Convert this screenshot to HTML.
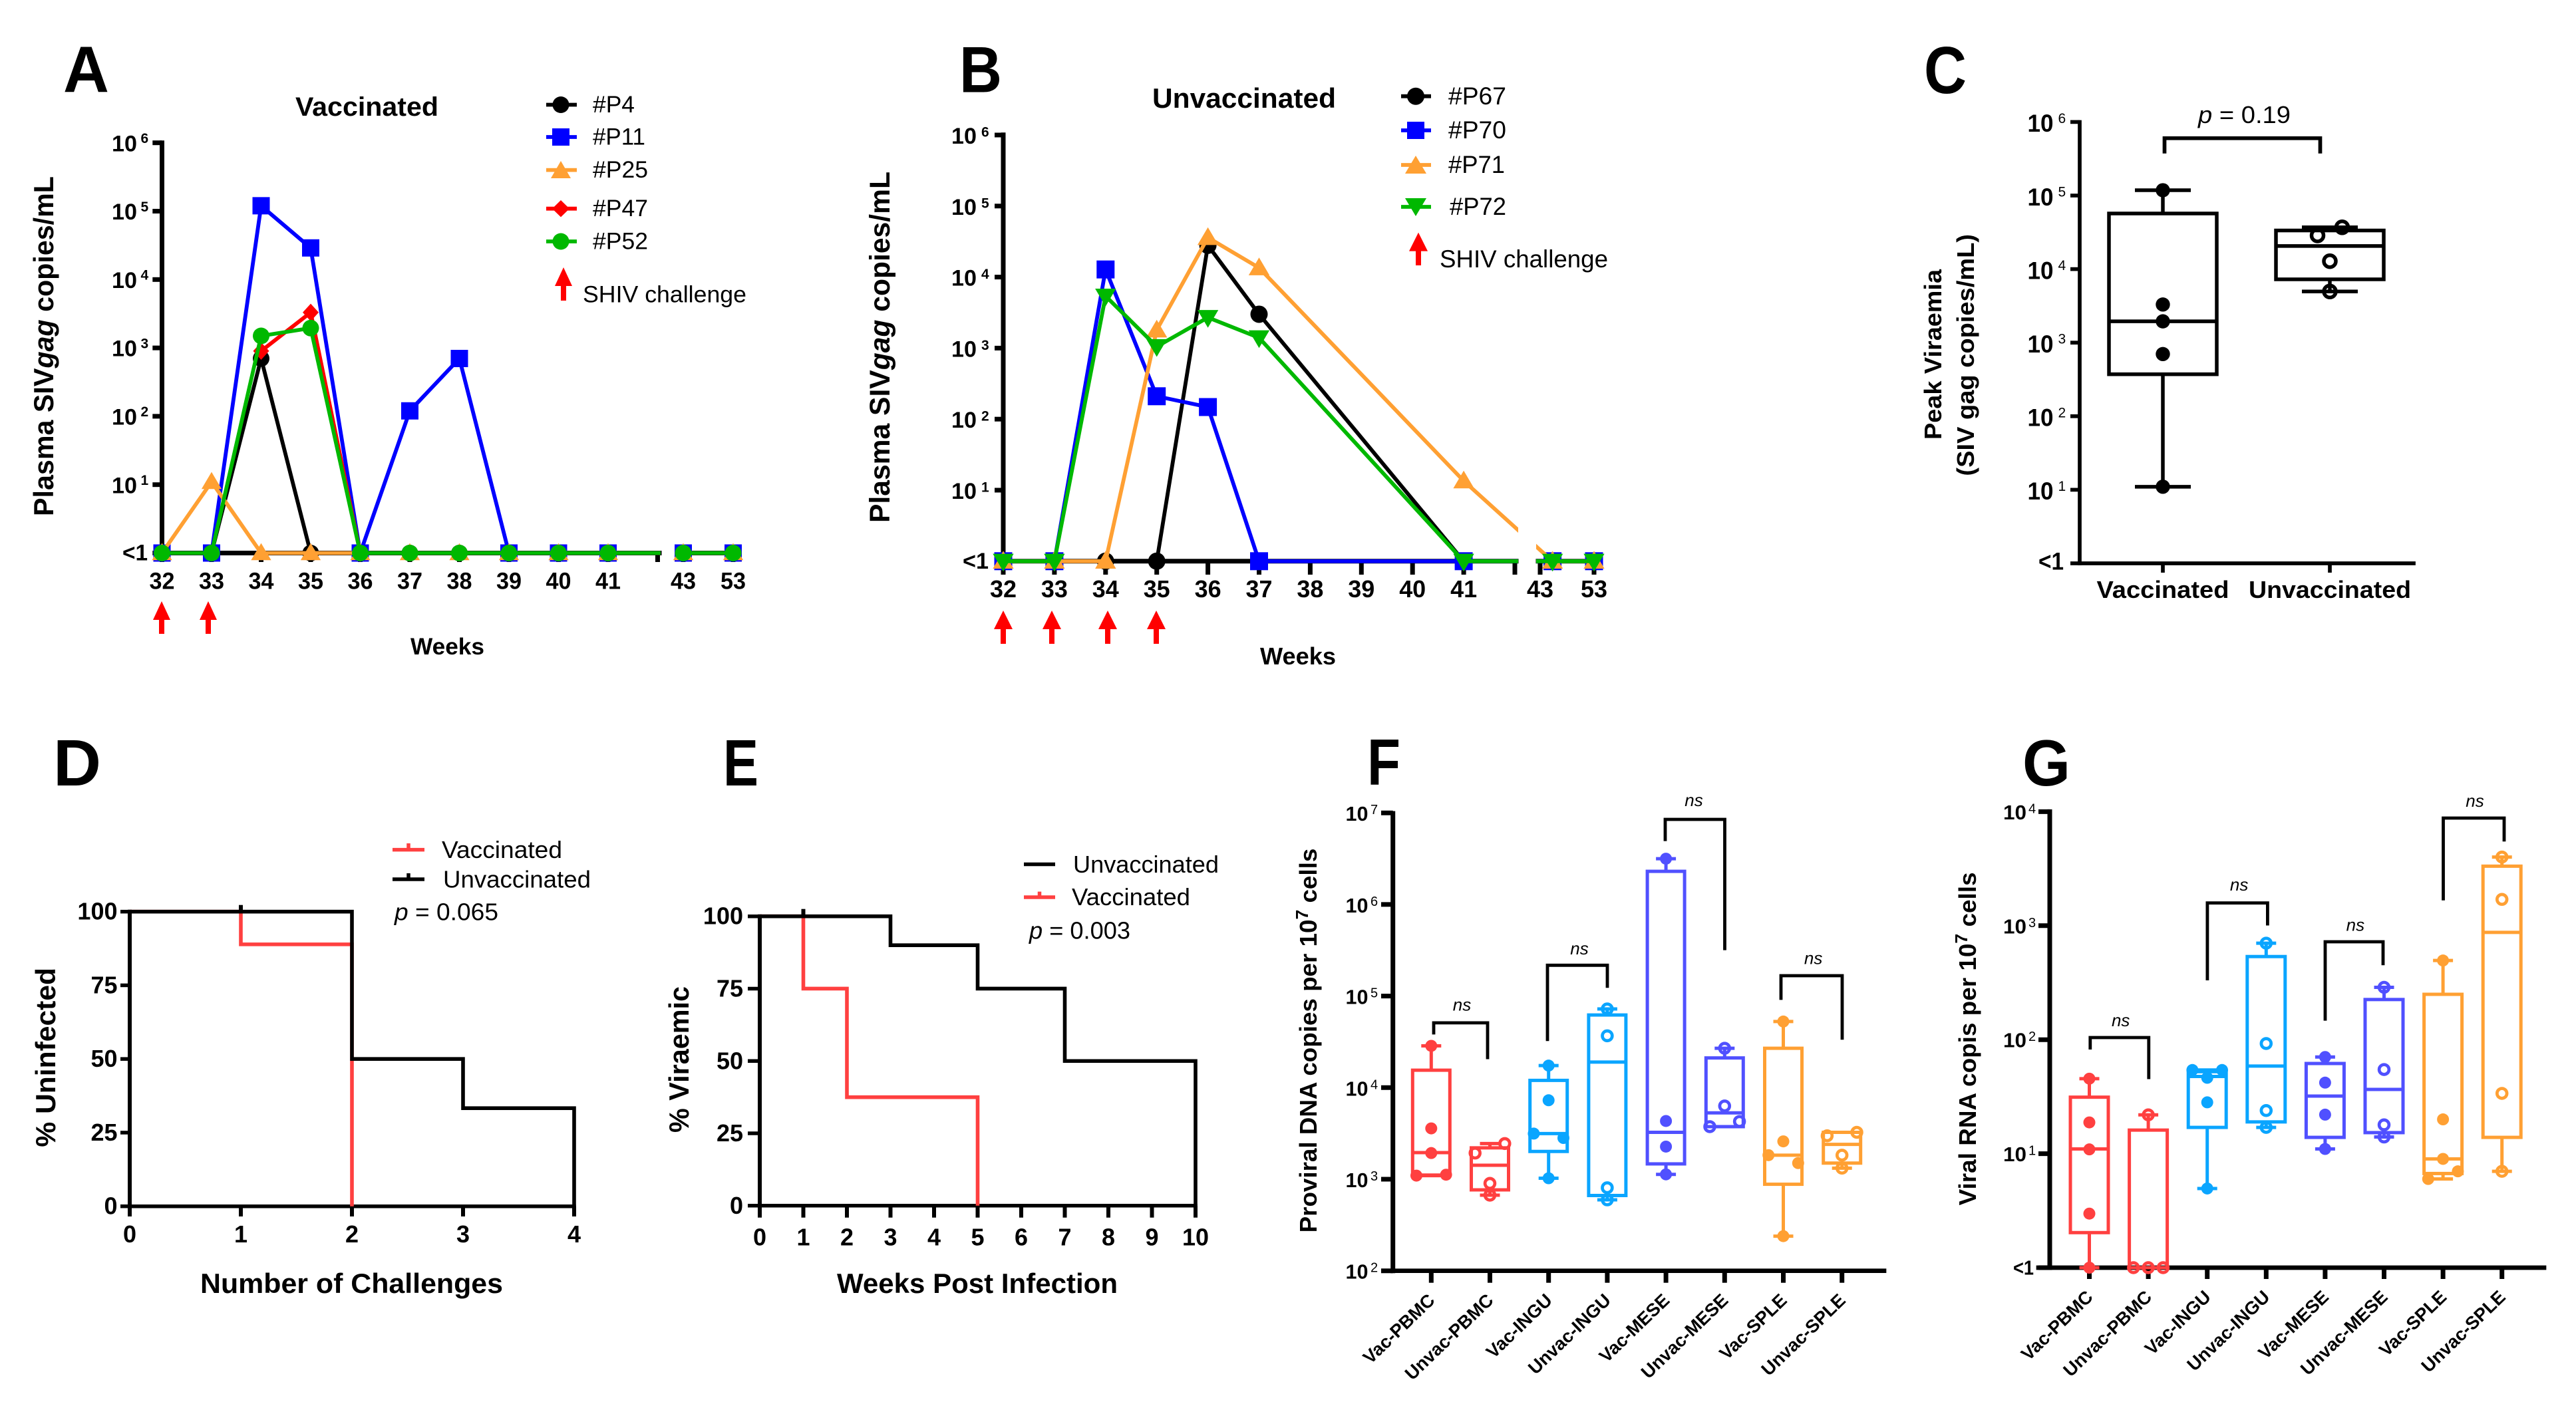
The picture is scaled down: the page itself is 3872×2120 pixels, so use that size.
<!DOCTYPE html>
<html lang="en">
<head>
<meta charset="utf-8">
<title>SHIV challenge outcomes figure</title>
<style>
html,body{margin:0;padding:0;background:#fff;}
svg{display:block;}
text{font-family:"Liberation Sans",sans-serif;fill:#000;}
.b{font-weight:bold;}
</style>
</head>
<body>
<svg id="figure" xmlns="http://www.w3.org/2000/svg" width="3872" height="2120" viewBox="0 0 3872 2120">
<rect x="0" y="0" width="3872" height="2120" fill="#fff"/>
<defs>
<clipPath id="clipA"><rect x="0" y="0" width="993" height="2120"/><rect x="1027" y="0" width="400" height="2120"/></clipPath>
<clipPath id="clipB"><rect x="1300" y="0" width="982" height="2120"/><rect x="2309" y="0" width="400" height="2120"/></clipPath>
</defs>

<!-- Panel A static -->
<g id="panelA">
<text class="b" x="95" y="138.6" font-size="98" textLength="69" lengthAdjust="spacingAndGlyphs">A</text>
<text class="b" x="444" y="173.8" font-size="40" textLength="215" lengthAdjust="spacingAndGlyphs">Vaccinated</text>
<text class="b" transform="translate(80,776) rotate(-90)" font-size="42" textLength="511" lengthAdjust="spacingAndGlyphs">Plasma SIV<tspan font-style="italic">gag</tspan> copies/mL</text>
<text class="b" x="617" y="983.8" font-size="35" textLength="111" lengthAdjust="spacingAndGlyphs">Weeks</text>
<g>
<g><line x1="821" x2="867" y1="157.5" y2="157.5" stroke="#000" stroke-width="5.8"/><circle cx="843" cy="157.5" r="12.5" fill="#000"/><text x="891" y="169" font-size="35" textLength="63" lengthAdjust="spacingAndGlyphs">#P4</text></g>
<g><line x1="821" x2="867" y1="206" y2="206" stroke="#00f" stroke-width="5.8"/><rect x="830" y="193" width="26" height="26" fill="#00f"/><text x="891" y="217.7" font-size="35" textLength="79" lengthAdjust="spacingAndGlyphs">#P11</text></g>
<g><line x1="821" x2="867" y1="255.6" y2="255.6" stroke="#ffa033" stroke-width="5.8"/><path d="M843 242l15 26h-30z" fill="#ffa033"/><text x="891" y="267" font-size="35" textLength="83" lengthAdjust="spacingAndGlyphs">#P25</text></g>
<g><line x1="821" x2="867" y1="313.7" y2="313.7" stroke="#f00" stroke-width="5.8"/><path d="M843 301l13 12.7-13 12.7-13-12.7z" fill="#f00"/><text x="891" y="325" font-size="35" textLength="83" lengthAdjust="spacingAndGlyphs">#P47</text></g>
<g><line x1="821" x2="867" y1="363" y2="363" stroke="#00b800" stroke-width="5.8"/><circle cx="843" cy="363" r="12.5" fill="#00b800"/><text x="891" y="374.6" font-size="35" textLength="83" lengthAdjust="spacingAndGlyphs">#P52</text></g>
<g><path d="M847 402l13 28h-9v22h-8v-22h-9z" fill="#f00"/><text x="876" y="454.4" font-size="35.5" textLength="246" lengthAdjust="spacingAndGlyphs">SHIV challenge</text></g>
</g>
<path d="M243 904l13 28h-9v21h-8v-21h-9z" fill="#f00"/>
<path d="M313 904l13 28h-9v21h-8v-21h-9z" fill="#f00"/>
</g>

<!-- Panel B static -->
<g id="panelB">
<text class="b" x="1442" y="138.6" font-size="98" textLength="64" lengthAdjust="spacingAndGlyphs">B</text>
<text class="b" x="1732" y="162" font-size="42" textLength="276" lengthAdjust="spacingAndGlyphs">Unvaccinated</text>
<text class="b" transform="translate(1337,786) rotate(-90)" font-size="43" textLength="528" lengthAdjust="spacingAndGlyphs">Plasma SIV<tspan font-style="italic">gag</tspan> copies/mL</text>
<text class="b" x="1894" y="999" font-size="36" textLength="114" lengthAdjust="spacingAndGlyphs">Weeks</text>
<g>
<g><line x1="2106" x2="2151" y1="144.7" y2="144.7" stroke="#000" stroke-width="5.8"/><circle cx="2128" cy="144.7" r="13" fill="#000"/><text x="2177" y="156.9" font-size="37" textLength="87" lengthAdjust="spacingAndGlyphs">#P67</text></g>
<g><line x1="2106" x2="2151" y1="196" y2="196" stroke="#00f" stroke-width="5.8"/><rect x="2115" y="183" width="26" height="26" fill="#00f"/><text x="2177" y="208" font-size="37" textLength="87" lengthAdjust="spacingAndGlyphs">#P70</text></g>
<g><line x1="2106" x2="2151" y1="248" y2="248" stroke="#ffa033" stroke-width="5.8"/><path d="M2128 234l16 27h-32z" fill="#ffa033"/><text x="2177" y="260" font-size="37" textLength="85" lengthAdjust="spacingAndGlyphs">#P71</text></g>
<g><line x1="2106" x2="2151" y1="311" y2="311" stroke="#00b800" stroke-width="5.8"/><path d="M2128 325l16-27h-32z" fill="#00b800"/><text x="2179" y="323" font-size="37" textLength="85" lengthAdjust="spacingAndGlyphs">#P72</text></g>
<g><path d="M2132 349.6l14 28h-10v21.4h-8v-21.4h-10z" fill="#f00"/><text x="2164" y="402" font-size="37" textLength="253" lengthAdjust="spacingAndGlyphs">SHIV challenge</text></g>
</g>
<path d="M1508 918l14 28h-10v22h-8v-22h-10z" fill="#f00"/>
<path d="M1581 918l14 28h-10v22h-8v-22h-10z" fill="#f00"/>
<path d="M1665 918l14 28h-10v22h-8v-22h-10z" fill="#f00"/>
<path d="M1738 918l14 28h-10v22h-8v-22h-10z" fill="#f00"/>
</g>

<!-- Panel C static -->
<g id="panelC">
<text class="b" x="2892" y="140" font-size="100" textLength="64" lengthAdjust="spacingAndGlyphs">C</text>
<text class="b" transform="translate(2918,661) rotate(-90)" font-size="36" textLength="256" lengthAdjust="spacingAndGlyphs">Peak Viraemia</text>
<text class="b" transform="translate(2967,715.6) rotate(-90)" font-size="36" textLength="363.6" lengthAdjust="spacingAndGlyphs">(SIV gag copies/mL)</text>
<path d="M3253.5 230.7V207.8H3487.5V230.7" fill="none" stroke="#000" stroke-width="5.7"/>
<text x="3304" y="185" font-size="36" textLength="139" lengthAdjust="spacingAndGlyphs"><tspan font-style="italic">p</tspan> = 0.19</text>
</g>

<!-- Panel D static -->
<g id="panelD">
<text class="b" x="80" y="1180.8" font-size="98" textLength="72" lengthAdjust="spacingAndGlyphs">D</text>
<text class="b" transform="translate(83,1724.6) rotate(-90)" font-size="42" textLength="269.6" lengthAdjust="spacingAndGlyphs">% Uninfected</text>
<text class="b" x="301" y="1944" font-size="42" textLength="455" lengthAdjust="spacingAndGlyphs">Number of Challenges</text>
<g>
<g><line x1="590" x2="638" y1="1277.6" y2="1277.6" stroke="#ff4040" stroke-width="5.5"/><line x1="614" x2="614" y1="1268" y2="1277.6" stroke="#ff4040" stroke-width="5.5"/><text x="664" y="1290" font-size="36" textLength="181" lengthAdjust="spacingAndGlyphs">Vaccinated</text></g>
<g><line x1="590" x2="638" y1="1322" y2="1322" stroke="#000" stroke-width="5.5"/><line x1="614" x2="614" y1="1313" y2="1322" stroke="#000" stroke-width="5.5"/><text x="666" y="1334.6" font-size="36" textLength="222" lengthAdjust="spacingAndGlyphs">Unvaccinated</text></g>
</g>
<text x="593" y="1383.7" font-size="36" textLength="156" lengthAdjust="spacingAndGlyphs"><tspan font-style="italic">p</tspan> = 0.065</text>
</g>

<!-- Panel E static -->
<g id="panelE">
<text class="b" x="1087" y="1180.8" font-size="98" textLength="53" lengthAdjust="spacingAndGlyphs">E</text>
<text class="b" transform="translate(1035,1703) rotate(-90)" font-size="42" textLength="220" lengthAdjust="spacingAndGlyphs">% Viraemic</text>
<text class="b" x="1258" y="1944" font-size="42" textLength="422" lengthAdjust="spacingAndGlyphs">Weeks Post Infection</text>
<g>
<g><line x1="1539" x2="1586" y1="1299.5" y2="1299.5" stroke="#000" stroke-width="5.5"/><text x="1613" y="1312" font-size="36" textLength="219" lengthAdjust="spacingAndGlyphs">Unvaccinated</text></g>
<g><line x1="1539" x2="1586" y1="1349" y2="1349" stroke="#ff4040" stroke-width="5.5"/><line x1="1562.5" x2="1562.5" y1="1340.6" y2="1349" stroke="#ff4040" stroke-width="5.5"/><text x="1611" y="1361" font-size="36" textLength="178" lengthAdjust="spacingAndGlyphs">Vaccinated</text></g>
</g>
<text x="1547" y="1411.6" font-size="36" textLength="152" lengthAdjust="spacingAndGlyphs"><tspan font-style="italic">p</tspan> = 0.003</text>
</g>

<!-- Panel F static -->
<g id="panelF">
<text class="b" x="2055" y="1180" font-size="98" textLength="50" lengthAdjust="spacingAndGlyphs">F</text>
<text class="b" transform="translate(1979,1853.4) rotate(-90)" font-size="36" textLength="577.7" lengthAdjust="spacingAndGlyphs">Proviral DNA copies per 10<tspan dy="-13" font-size="26">7</tspan><tspan dy="13"> cells</tspan></text>
<g fill="none" stroke="#000" stroke-width="4.8">
<path d="M2155 1555.4V1537.9H2236V1592.5"/>
<path d="M2326 1565.2V1451.3H2416V1485.2"/>
<path d="M2503 1264.6V1232H2592.5V1428.6"/>
<path d="M2677 1503.4V1467H2769V1563.2"/>
</g>
<g font-style="italic" font-size="26" text-anchor="middle">
<text x="2197.5" y="1519.6">ns</text>
<text x="2374" y="1435">ns</text>
<text x="2546" y="1212">ns</text>
<text x="2725.6" y="1449.4">ns</text>
</g>
</g>

<!-- Panel G static -->
<g id="panelG">
<text class="b" x="3040" y="1181" font-size="98" textLength="72" lengthAdjust="spacingAndGlyphs">G</text>
<text class="b" transform="translate(2970,1812.4) rotate(-90)" font-size="36" textLength="501" lengthAdjust="spacingAndGlyphs">Viral RNA copis per 10<tspan dy="-13" font-size="26">7</tspan><tspan dy="13"> cells</tspan></text>
<g fill="none" stroke="#000" stroke-width="4.8">
<path d="M3141.8 1578V1560H3229.8V1622.5"/>
<path d="M3317.9 1474V1357.6H3408.4V1391.5"/>
<path d="M3495 1534.6V1416H3582V1451.3"/>
<path d="M3672.5 1353.7V1230H3764V1265.3"/>
</g>
<g font-style="italic" font-size="26" text-anchor="middle">
<text x="3187.7" y="1543">ns</text>
<text x="3365.6" y="1338.8">ns</text>
<text x="3540.4" y="1399.3">ns</text>
<text x="3720" y="1213">ns</text>
</g>
</g>
</svg>

<script>
// ---------- Panel A data (plasma SIV gag copies/mL; 1 means "<1") ----------
const aTickWeeks = [32,33,34,35,36,37,38,39,40,41,42,43,53];
const aTickLabels = ['32','33','34','35','36','37','38','39','40','41','','43','53'];
const aP4Weeks = [32,33,34,35,36,37,38,39,40,41,43,53];
const aP4Values = [1,1,700,1,1,1,1,1,1,1,1,1];
const aP11Weeks = [32,33,34,35,36,37,38,39,40,41,43,53];
const aP11Values = [1,1,120000,29000,1,120,700,1,1,1,1,1];
const aP25Weeks = [32,33,34,35,36,37,38,39,40,41,43,53];
const aP25Values = [1,11,1,1,1,1,1,1,1,1,1,1];
const aP47Weeks = [34,35,36];
const aP47Values = [900,3300,1];
const aP52Weeks = [32,33,34,35,36,37,38,39,40,41,43,53];
const aP52Values = [1,1,1500,1950,1,1,1,1,1,1,1,1];

// ---------- Panel B data ----------
const bTickWeeks = [32,33,34,35,36,37,38,39,40,41,42,43,53];
const bTickLabels = ['32','33','34','35','36','37','38','39','40','41','','43','53'];
const bP67Weeks = [32,33,34,35,36,37,41,45.3,53];
const bP67Values = [1,1,1,1,28000,3000,1,1,1];
const bP70Weeks = [32,33,34,35,36,37,41,45.3,53];
const bP70Values = [1,1,12800,210,148,1,1,1,1];
const bP71Weeks = [32,33,34,35,36,37,41,45.3,53];
const bP71Values = [1,1,1,1800,36000,13500,13.5,1,1];
const bP72Weeks = [32,33,34,35,36,37,41,45.3,53];
const bP72Values = [1,1,5400,1050,2700,1400,1,1,1];

// ---------- Shared log tick exponents ----------
const abcExponents = [0,1,2,3,4,5,6];
const fExponents = [2,3,4,5,6,7];
const gExponents = [0,1,2,3,4];

// ---------- Panel C data ----------
const cCategories = ['Vaccinated','Unvaccinated'];
const cVaccinatedPoints = [118000,3300,1950,700,11];
const cUnvaccinatedPoints = [28700,37000,12800,4960];
const cQ3 = [57000,33500];
const cMedian = [1950,20600];
const cQ1 = [372,7260];

// ---------- Panel D data ----------
const dXTicks = [0,1,2,3,4];
const dYTicks = [0,25,50,75,100];
const dVaccinatedTimes = [0,1,2];
const dVaccinatedPercent = [100,88.9,0];
const dUnvaccinatedTimes = [0,2,3,4];
const dUnvaccinatedPercent = [100,50,33.3,0];
const dCensorTime = [1];

// ---------- Panel E data ----------
const eXTicks = [0,1,2,3,4,5,6,7,8,9,10];
const eYTicks = [0,25,50,75,100];
const eVaccinatedTimes = [0,1,2,5];
const eVaccinatedPercent = [100,75,37.5,0];
const eUnvaccinatedTimes = [0,3,5,7,10];
const eUnvaccinatedPercent = [100,90,75,50,0];
const eCensorTime = [1];

// ---------- Panels F and G data ----------
const tissueCategories = ['Vac-PBMC','Unvac-PBMC','Vac-INGU','Unvac-INGU','Vac-MESE','Unvac-MESE','Vac-SPLE','Unvac-SPLE'];
const tissueColors = ['#ff4040','#ff4040','#0aa5ff','#0aa5ff','#5050ff','#5050ff','#ffa033','#ffa033'];
const fPoints = [
  [28600,3590,1930,1095,1120],
  [1930,2450,900,670],
  [17400,7280,3150,2820,1025],
  [72300,36800,807,595],
  [3160000,4320,2270,1130],
  [26900,6310,3750,4270],
  [52700,2590,1830,1500,239],
  [2980,3250,1830,1320]
];
const fQ3 = [15500,2200,12000,62100,2300000,21100,26900,3250];
const fMedian = [1950,1420,3150,19000,3250,5300,1830,2400];
const fQ1 = [1110,765,2010,664,1470,3750,881,1500];
const gPoints = [
  [45.5,18.8,10.9,2.98,1],
  [21.9,1,1,1],
  [54.2,54.2,46.3,28.2,4.95],
  [702,92.5,23.9,17],
  [70.5,42,22,11],
  [288,54.7,17.9,14],
  [495,20,9,6,7],
  [4000,1700,33.8,7]
];
const gQ3 = [31.3,16.1,52.4,536,61.8,225,250,3326];
const gMedian = [11,1,47.6,58.7,32,36.6,9,873];
const gQ1 = [2.03,1,17,19,13.9,15.3,6.7,13.9];

// ---------- Helpers ----------
const SVG_NS = 'http://www.w3.org/2000/svg';
function add(parent, tag, attrs) {
  const el = document.createElementNS(SVG_NS, tag);
  for (const k in attrs) el.setAttribute(k, attrs[k]);
  parent.appendChild(el);
  return el;
}
function axisLine(parent, x1, y1, x2, y2, w) {
  const el = add(parent, 'line', {x1, y1, x2, y2, stroke: '#000', 'stroke-width': w, 'stroke-linecap': 'square'});
  
  
  return el;
}
function tick(parent, x1, y1, x2, y2, w) {
  const el = add(parent, 'line', {x1, y1, x2, y2, stroke: '#000', 'stroke-width': w});
  
  
  return el;
}
function tickText(parent, x, y, str, size, anchor, width, weight) {
  const attrs = {x, y, 'font-size': size, 'text-anchor': anchor, 'font-weight': weight || 'bold'};
  if (width) { attrs.textLength = width; attrs.lengthAdjust = 'spacingAndGlyphs'; }
  const el = add(parent, 'text', attrs);
  el.textContent = str;
  
  
  return el;
}
function powerTick(parent, exp, y, o) {
  if (exp === 0) {
    tickText(parent, o.ltX, y + o.ltDy, '<1', o.size, 'start', o.ltW);
    return;
  }
  tickText(parent, o.baseX, y + o.baseDy, '10', o.size, 'start', o.baseW);
  tickText(parent, o.expX, y + o.expDy, String(exp), o.expSize, 'start', 0, o.expWeight || 'normal');
}
function marker(parent, shape, cx, cy, s, color) {
  let el;
  if (shape === 'circle') el = add(parent, 'circle', {cx, cy, r: s / 2, fill: color});
  else if (shape === 'square') el = add(parent, 'rect', {x: cx - s / 2, y: cy - s / 2, width: s, height: s, fill: color});
  else if (shape === 'diamond') el = add(parent, 'polygon', {points: `${cx},${cy - s * 0.55} ${cx + s / 2},${cy} ${cx},${cy + s * 0.55} ${cx - s / 2},${cy}`, fill: color});
  else if (shape === 'triangle') el = add(parent, 'polygon', {points: `${cx},${cy - s * 0.55} ${cx + s * 0.56},${cy + s * 0.4} ${cx - s * 0.56},${cy + s * 0.4}`, fill: color});
  else el = add(parent, 'polygon', {points: `${cx},${cy + s * 0.55} ${cx + s * 0.56},${cy - s * 0.4} ${cx - s * 0.56},${cy - s * 0.4}`, fill: color});
  
  
  return el;
}
function lineSeries(parent, name, weeks, values, xFn, yFn, color, shape, size, lw, clip) {
  const g = add(parent, 'g', {});
  
  
  const pts = weeks.map((w, i) => xFn(w) + ',' + yFn(values[i])).join(' ');
  const line = add(g, 'polyline', {points: pts, fill: 'none', stroke: color, 'stroke-width': lw, 'stroke-linejoin': 'miter', 'clip-path': 'url(#' + clip + ')'});
  
  
  weeks.forEach((w, i) => marker(g, shape, xFn(w), yFn(values[i]), size, color));
}
function swarm(values, yFn, dx, thresh) {
  const order = values.map((v, i) => i).sort((a, b) => yFn(values[a]) - yFn(values[b]));
  const off = values.map(() => 0);
  let i = 0;
  while (i < order.length) {
    let j = i;
    while (j + 1 < order.length && yFn(values[order[j + 1]]) - yFn(values[order[j]]) < thresh) j++;
    const grp = order.slice(i, j + 1);
    if (grp.length === 2) {
      grp.sort((a, b) => a - b);
      off[grp[0]] = -dx;
      off[grp[1]] = dx;
    } else if (grp.length >= 3) {
      off[grp[0]] = -dx;
      off[grp[1]] = dx;
    }
    i = j + 1;
  }
  return off;
}
function boxPlot(parent, name, cx, q1, med, q3, pts, color, open, yFn, o) {
  const g = add(parent, 'g', {});
  
  
  const hi = Math.max(...pts), lo = Math.min(...pts);
  const whiskUp = add(g, 'line', {x1: cx, x2: cx, y1: yFn(q3), y2: yFn(hi), stroke: color, 'stroke-width': o.lw});
  
  
  const whiskLo = add(g, 'line', {x1: cx, x2: cx, y1: yFn(q1), y2: yFn(lo), stroke: color, 'stroke-width': o.lw});
  
  
  const capUp = add(g, 'line', {x1: cx - o.cap, x2: cx + o.cap, y1: yFn(hi), y2: yFn(hi), stroke: color, 'stroke-width': o.lw});
  
  
  const capLo = add(g, 'line', {x1: cx - o.cap, x2: cx + o.cap, y1: yFn(lo), y2: yFn(lo), stroke: color, 'stroke-width': o.lw});
  
  
  const box = add(g, 'rect', {x: cx - o.hw, y: yFn(q3), width: o.hw * 2, height: yFn(q1) - yFn(q3), fill: 'none', stroke: color, 'stroke-width': o.lw});
  
  
  const mid = add(g, 'line', {x1: cx - o.hw, x2: cx + o.hw, y1: yFn(med), y2: yFn(med), stroke: color, 'stroke-width': o.lw});
  
  
  const off = swarm(pts, yFn, o.dx, 15.6);
  pts.forEach((v, i) => {
    const c = open
      ? add(g, 'circle', {cx: cx + off[i], cy: yFn(v), r: o.openR, fill: 'none', stroke: color, 'stroke-width': o.openLw})
      : add(g, 'circle', {cx: cx + off[i], cy: yFn(v), r: o.r, fill: color});
    
    
  });
}
function stepPath(parent, name, times, percent, xFn, yFn, color, lw) {
  let d = 'M' + xFn(times[0]) + ' ' + yFn(percent[0]);
  for (let i = 1; i < times.length; i++) d += 'H' + xFn(times[i]) + 'V' + yFn(percent[i]);
  const el = add(parent, 'path', {d, fill: 'none', stroke: color, 'stroke-width': lw, 'stroke-linejoin': 'miter'});
  
  
}

// ---------- Panel A ----------
(function () {
  const g = document.getElementById('panelA');
  const x = w => w <= 42 ? 243.5 + (w - 32) * 74.5 : 1027 + (w - 43) * 7.5;
  const y = v => 831.5 - Math.log10(v) * 102.8;
  axisLine(g, 243.5, 214.7, 243.5, 831.5, 7);
  axisLine(g, 243.5, 831.5, 991, 831.5, 7);
  axisLine(g, 1027, 831.5, 1102, 831.5, 7);
  abcExponents.forEach(e => {
    const yy = 831.5 - e * 102.8;
    tick(g, 229.3, yy, 243.5, yy, 7);
    powerTick(g, e, yy, {ltX: 184, ltW: 38, ltDy: 11, baseX: 168, baseW: 38, baseDy: 12.6, size: 34, expX: 211.5, expDy: 0.3, expSize: 21, expWeight: 'bold'});
  });
  aTickWeeks.forEach((w, i) => {
    tick(g, x(w), 831.5, x(w), 845, 7);
    if (aTickLabels[i]) tickText(g, x(w), 885.7, aTickLabels[i], 35, 'middle', 38);
  });
  lineSeries(g, 'p4', aP4Weeks, aP4Values, x, y, '#000', 'circle', 25, 5.8, 'clipA');
  lineSeries(g, 'p11', aP11Weeks, aP11Values, x, y, '#00f', 'square', 26, 5.8, 'clipA');
  lineSeries(g, 'p25', aP25Weeks, aP25Values, x, y, '#ffa033', 'triangle', 27, 5.8, 'clipA');
  lineSeries(g, 'p47', aP47Weeks, aP47Values, x, y, '#f00', 'diamond', 24, 5.8, 'clipA');
  lineSeries(g, 'p52', aP52Weeks, aP52Values, x, y, '#00b800', 'circle', 25, 5.8, 'clipA');
})();

// ---------- Panel B ----------
(function () {
  const g = document.getElementById('panelB');
  const x = w => w <= 42 ? 1508 + (w - 32) * 76.9 : 2315 + (w - 43) * 8.1;
  const y = v => 843.8 - Math.log10(v) * 106.8;
  axisLine(g, 1508, 202.8, 1508, 843.8, 7);
  axisLine(g, 1508, 843.8, 2279, 843.8, 7);
  axisLine(g, 2312, 843.8, 2396, 843.8, 7);
  abcExponents.forEach(e => {
    const yy = 843.8 - e * 106.8;
    tick(g, 1495, yy, 1508, yy, 7);
    powerTick(g, e, yy, {ltX: 1447, ltW: 39, ltDy: 11, baseX: 1430, baseW: 38, baseDy: 13, size: 34, expX: 1475, expDy: 2.5, expSize: 21, expWeight: 'bold'});
  });
  bTickWeeks.forEach((w, i) => {
    tick(g, x(w), 843.8, x(w), 864, 7);
    if (bTickLabels[i]) tickText(g, x(w), 898, bTickLabels[i], 36, 'middle', 40);
  });
  lineSeries(g, 'p67', bP67Weeks, bP67Values, x, y, '#000', 'circle', 26, 5.8, 'clipB');
  lineSeries(g, 'p70', bP70Weeks, bP70Values, x, y, '#00f', 'square', 27, 5.8, 'clipB');
  lineSeries(g, 'p71', bP71Weeks, bP71Values, x, y, '#ffa033', 'triangle', 28, 5.8, 'clipB');
  lineSeries(g, 'p72', bP72Weeks, bP72Values, x, y, '#00b800', 'inverted-triangle', 28, 5.8, 'clipB');
})();

// ---------- Panel C ----------
(function () {
  const g = document.getElementById('panelC');
  const xTick = [3251, 3502];
  const y = v => 847 - Math.log10(v) * 110.6;
  axisLine(g, 3126, 183.5, 3126, 847, 5.7);
  axisLine(g, 3126, 847, 3628, 847, 5.7);
  abcExponents.forEach(e => {
    const yy = 847 - e * 110.6;
    tick(g, 3112, yy, 3126, yy, 5.7);
    powerTick(g, e, yy, {ltX: 3064, ltW: 38, ltDy: 9.6, baseX: 3047.5, baseW: 39, baseDy: 14.8, size: 37, expX: 3093.5, expDy: 1.5, expSize: 21});
  });
  cCategories.forEach((c, i) => {
    tick(g, xTick[i], 847, xTick[i], 861, 5.7);
    tickText(g, xTick[i], 899, c, 36, 'middle', i === 0 ? 199 : 244);
  });
  const o = {hw: 81, cap: 42, lw: 5.5, r: 10.7, openR: 9, openLw: 5.5, dx: 18.5};
  boxPlot(g, 'vaccinated', xTick[0], cQ1[0], cMedian[0], cQ3[0], cVaccinatedPoints, '#000', false, y, o);
  boxPlot(g, 'unvaccinated', xTick[1], cQ1[1], cMedian[1], cQ3[1], cUnvaccinatedPoints, '#000', true, y, o);
})();

// ---------- Panel D ----------
(function () {
  const g = document.getElementById('panelD');
  const x = t => 195 + t * 167;
  const y = p => 1813.7 - p * 4.43;
  axisLine(g, x(0), y(100), x(0), y(0), 6);
  axisLine(g, x(0), y(0), x(4), y(0), 5.5);
  dYTicks.forEach(p => {
    tick(g, 181, y(p), x(0), y(p), 5.5);
    tickText(g, 176.5, y(p) + 12, String(p), 36, 'end');
  });
  dXTicks.forEach(t => {
    tick(g, x(t), y(0), x(t), 1829, 6);
    tickText(g, x(t), 1867.8, String(t), 36, 'middle');
  });
  stepPath(g, 'vaccinated', dVaccinatedTimes, dVaccinatedPercent, x, y, '#ff4040', 5.6);
  stepPath(g, 'unvaccinated', dUnvaccinatedTimes, dUnvaccinatedPercent, x, y, '#000', 5.6);
  dCensorTime.forEach(t => {
    const c = add(g, 'line', {x1: x(t), x2: x(t), y1: y(100), y2: y(100) - 10, stroke: '#000', 'stroke-width': 6});
    
    
  });
})();

// ---------- Panel E ----------
(function () {
  const g = document.getElementById('panelE');
  const x = t => 1142 + t * 65.5;
  const y = p => 1812.8 - p * 4.351;
  axisLine(g, x(0), y(100), x(0), y(0), 6);
  axisLine(g, x(0), y(0), x(10), y(0), 5.5);
  eYTicks.forEach(p => {
    tick(g, 1124, y(p), x(0), y(p), 5.5);
    tickText(g, 1117, y(p) + 12, String(p), 36, 'end');
  });
  eXTicks.forEach(t => {
    tick(g, x(t), y(0), x(t), 1830.7, 6);
    tickText(g, x(t), 1872.4, String(t), 36, 'middle');
  });
  stepPath(g, 'vaccinated', eVaccinatedTimes, eVaccinatedPercent, x, y, '#ff4040', 5.6);
  stepPath(g, 'unvaccinated', eUnvaccinatedTimes, eUnvaccinatedPercent, x, y, '#000', 5.6);
  eCensorTime.forEach(t => {
    const c = add(g, 'line', {x1: x(t), x2: x(t), y1: y(100), y2: y(100) - 11, stroke: '#000', 'stroke-width': 6});
    
    
  });
})();

// ---------- Panel F ----------
(function () {
  const g = document.getElementById('panelF');
  const x = i => 2151.3 + i * 88.2;
  const y = v => 1910.7 - (Math.log10(v) - 2) * 137.7;
  axisLine(g, 2093.7, 1223, 2093.7, 1910.7, 7);
  axisLine(g, 2093.7, 1910.7, 2832, 1910.7, 6.7);
  fExponents.forEach(e => {
    const yy = 1910.7 - (e - 2) * 137.7;
    tick(g, 2076, yy, 2093.7, yy, 7);
    powerTick(g, e, yy, {ltX: 0, ltW: 0, ltDy: 0, baseX: 2022.5, baseW: 34, baseDy: 12, size: 31, expX: 2060, expDy: 2, expSize: 20});
  });
  const o = {hw: 28, cap: 15, lw: 5, r: 9, openR: 7.4, openLw: 4.7, dx: 22.3};
  tissueCategories.forEach((c, i) => {
    tick(g, x(i), 1910.7, x(i), 1928.7, 7);
    const label = add(g, 'text', {'font-size': 27.4, 'font-weight': 'bold', 'text-anchor': 'end', transform: `translate(${x(i) + 7},1957) rotate(-44)`});
    label.textContent = c;
    
    
    boxPlot(g, c.toLowerCase(), x(i), fQ1[i], fMedian[i], fQ3[i], fPoints[i], tissueColors[i], i % 2 === 1, y, o);
  });
})();

// ---------- Panel G ----------
(function () {
  const g = document.getElementById('panelG');
  const x = i => 3140.5 + i * 88.6;
  const y = v => 1906 - Math.log10(v) * 171.4;
  axisLine(g, 3081, 1220.4, 3081, 1906, 7);
  axisLine(g, 3064, 1906, 3824, 1906, 6.7);
  gExponents.forEach(e => {
    const yy = 1906 - e * 171.4;
    tick(g, 3064, yy, 3081, yy, 7);
    powerTick(g, e, yy, {ltX: 3026, ltW: 31, ltDy: 10.5, baseX: 3011, baseW: 35, baseDy: 11.5, size: 31, expX: 3049, expDy: 2, expSize: 20});
  });
  const o = {hw: 28.5, cap: 15, lw: 5, r: 9, openR: 7.4, openLw: 4.7, dx: 22.3};
  tissueCategories.forEach((c, i) => {
    tick(g, x(i), 1906, x(i), 1923, 7);
    const label = add(g, 'text', {'font-size': 27.4, 'font-weight': 'bold', 'text-anchor': 'end', transform: `translate(${x(i) + 7},1952) rotate(-44)`});
    label.textContent = c;
    
    
    boxPlot(g, c.toLowerCase(), x(i), gQ1[i], gMedian[i], gQ3[i], gPoints[i], tissueColors[i], i % 2 === 1, y, o);
  });
})();
</script>
</body>
</html>
